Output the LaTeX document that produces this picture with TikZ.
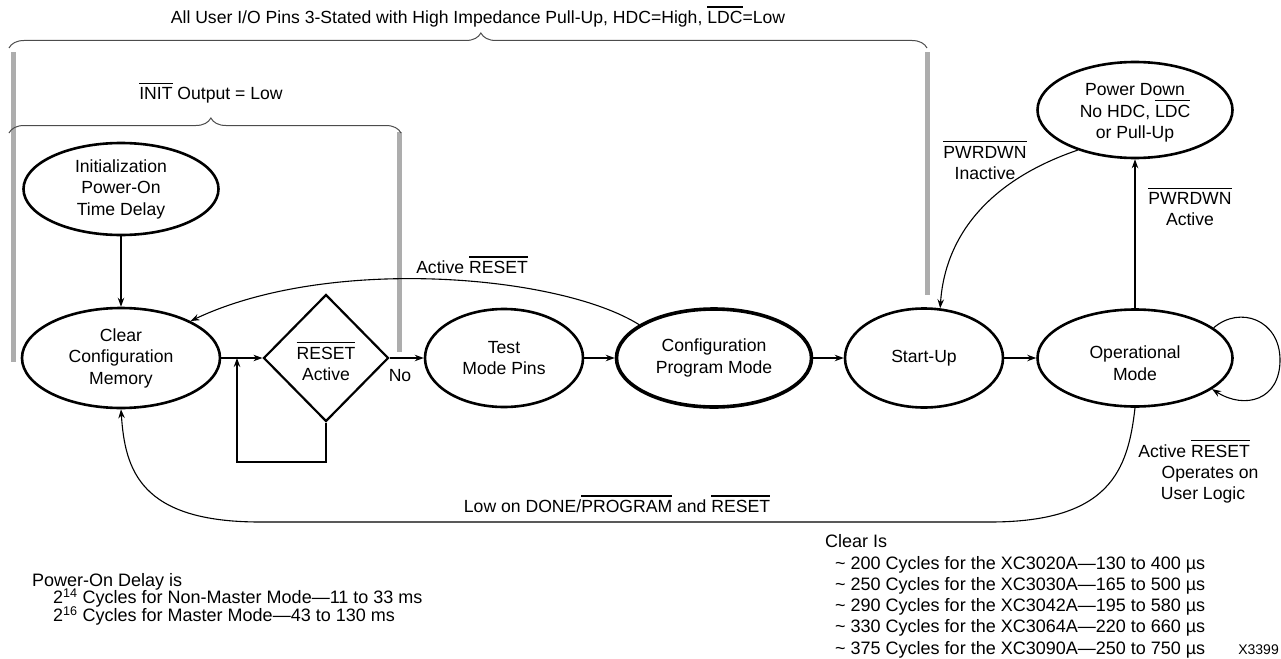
\documentclass[tikz,border=0pt]{standalone}
\usepackage{fontspec}
\setmainfont{Liberation Sans}
\usetikzlibrary{shapes.geometric,arrows.meta,decorations.pathreplacing}
\newcommand{\ovl}[1]{\leavevmode\setbox0=\hbox{#1}\rlap{\raisebox{\dimexpr\ht0+3.5pt\relax}{\rule{\wd0}{1.1pt}}}\box0\relax}
\tikzset{
  st/.style={draw, ellipse, line width=2.6pt, inner sep=0pt, align=center},
  arr/.style={-{Stealth[length=9pt,width=6.5pt]}, line width=1.1pt},
  lbl/.style={inner sep=0pt, align=center},
  bl/.style={inner sep=0pt, anchor=base},
  note/.style={inner sep=0pt, anchor=base west, font=\fontsize{18}{21.5}\selectfont},
  gbar/.style={fill=black!32},
  brc/.style={decorate, decoration={brace, amplitude=15pt, aspect=#1}, line width=1pt, draw=black!70},
}
\begin{document}
\begin{tikzpicture}[x=1pt,y=-1pt,font=\fontsize{17.6}{21.5}\selectfont]
\useasboundingbox (0,0) rectangle (1281,658);
% gray bars
\fill[gbar] (11,52) rectangle (16,362);
\fill[gbar] (396.5,132) rectangle (401.5,352);
\fill[gbar] (924.5,52) rectangle (929.5,295);
% braces
\draw[brc=0.514] (9,48) -- (927,48);
\draw[brc=0.515] (9,133) -- (401,133);
\node[bl] (toptxt) at (478,23.3) {All User I/O Pins 3-Stated with High Impedance Pull-Up, HDC=High, \ovl{LDC}=Low};
\node[bl] (inittxt) at (211,99.5) {\ovl{INIT} Output = Low};
% states
\node[st, minimum width=195, minimum height=92] (init) at (121,189) {Initialization\\Power-On\\Time Delay};
\node[st, minimum width=198, minimum height=100] (clear) at (121,358) {Clear\\Configuration\\Memory};
\node[draw, diamond, line width=2.2pt, minimum width=125, minimum height=127, inner sep=0pt] (dia) at (326,358) {};
\node[lbl] (diatxt) at (326,361.5) {\ovl{RESET}\\Active};
\node[st, minimum width=158, minimum height=98] (test) at (504,358) {Test\\Mode Pins};
\node[st, line width=3.6pt, minimum width=195, minimum height=98] (conf) at (714,358) {Configuration\\Program Mode};
\node[st, minimum width=158, minimum height=99] (start) at (924,358) {Start-Up};
\node[st, minimum width=195, minimum height=97] (op) at (1135,358) {};
\node[lbl] (optxt) at (1135,363) {Operational\\Mode};
\node[st, minimum width=195, minimum height=96] (pd) at (1135,110) {};
\node[lbl] (pdtxt) at (1135,113) {Power Down\\No HDC, \ovl{LDC}\\or Pull-Up};
% connectors
\draw[arr] (init) -- (clear);
\draw[arr] (clear) -- (dia);
\coordinate (l1) at (326,462);
\coordinate (l2) at (237,462);
\coordinate (l3) at (237,358);
\draw[arr] (dia.south) -- (l1) -- (l2) -- (l3);
\draw[arr] (dia) -- (test);
\node[lbl] (no) at (400,376) {No};
\draw[arr] (test) -- (conf);
\draw[arr] (conf) -- (start);
\draw[arr] (start) -- (op);
\draw[arr] (op) -- (pd);
\draw[arr] (pd.215) .. controls (990,180) and (945,235) .. (start.72);
\node[lbl] (pwi) at (985,160.5) {\ovl{PWRDWN}\\Inactive};
\node[lbl] (pwa) at (1190,206.7) {\ovl{PWRDWN}\\Active};
\draw[arr] (op.21) .. controls (1240,305) and (1280,320) .. (1280,360) .. controls (1280,400) and (1245,410) .. (op.-22);
\draw[arr] (conf.156) .. controls (560,275) and (330,255) .. (clear.28);
\node[bl] (ar) at (472,273.3) {Active \ovl{RESET}};
\draw[arr] (op.south) .. controls (1128,470) and (1110,522) .. (990,522) -- (260,522) .. controls (140,522) and (125,470) .. (clear.south);
\node[bl] (low) at (617,512.3) {Low on DONE/\ovl{PROGRAM} and \ovl{RESET}};
\node[bl] (ar2) at (1194,457) {Active \ovl{RESET}};
\node[bl] (opon) at (1210,478) {Operates on};
\node[bl] (ulog) at (1203,499) {User Logic};
% notes
\node[note] (clr) at (825,547.5) {Clear Is};
\node[note] (c1) at (835,569) {\textasciitilde{} 200 Cycles for the XC3020A—130 to 400 µs};
\node[note] (c2) at (835,590.3) {\textasciitilde{} 250 Cycles for the XC3030A—165 to 500 µs};
\node[note] (c3) at (835,611.5) {\textasciitilde{} 290 Cycles for the XC3042A—195 to 580 µs};
\node[note] (c4) at (835,632.8) {\textasciitilde{} 330 Cycles for the XC3064A—220 to 660 µs};
\node[note] (c5) at (835,654) {\textasciitilde{} 375 Cycles for the XC3090A—250 to 750 µs};
\node[inner sep=0pt, anchor=base east, font=\fontsize{14}{17}\selectfont] (xid) at (1279,654) {X3399};
\node[note] (pod) at (32,586) {Power-On Delay is};
\node[note] (p1) at (53,603.5) {2\textsuperscript{14} Cycles for Non-Master Mode—11 to 33 ms};
\node[note] (p2) at (53,621.5) {2\textsuperscript{16} Cycles for Master Mode—43 to 130 ms};
\end{tikzpicture}
\end{document}
